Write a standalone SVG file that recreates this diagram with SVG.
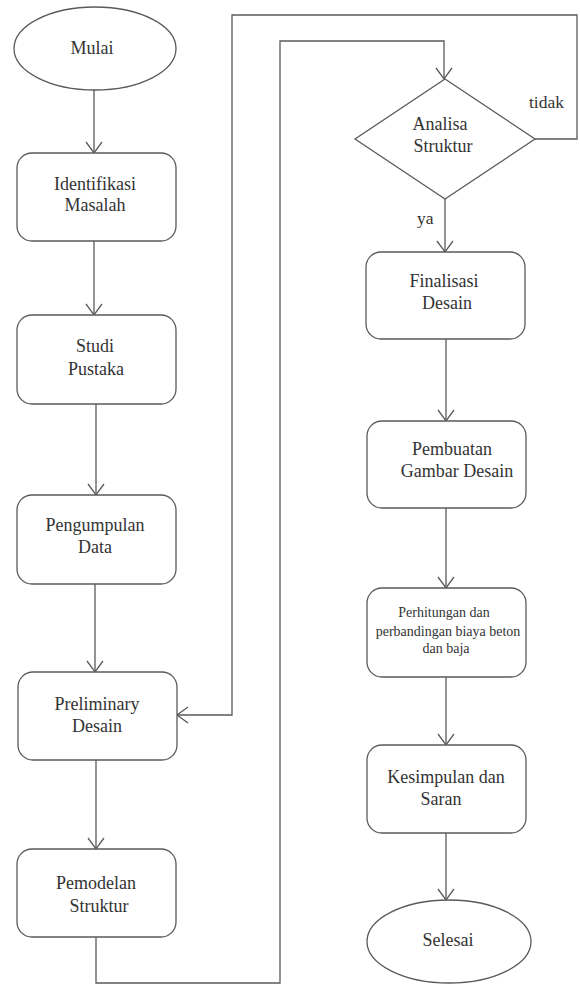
<svg xmlns="http://www.w3.org/2000/svg" width="580" height="984" viewBox="0 0 580 984">
<style>
.shape{fill:#ffffff;stroke:#5a5a5a;stroke-width:1.3}
text{font-family:'Liberation Serif','DejaVu Serif',serif;fill:#333333}
.t{font-size:18px;text-anchor:middle}
.s{font-size:14px;text-anchor:middle}
.lbl{font-size:17.5px}
.c{fill:none;stroke:#5a5a5a;stroke-width:1.3}
</style>
<defs>
<marker id="arr" markerUnits="userSpaceOnUse" markerWidth="14" markerHeight="20" viewBox="0 0 14 20" refX="12" refY="10" orient="auto">
<path d="M1,2 L12,10 L1,18" fill="none" stroke="#5a5a5a" stroke-width="1.3"/>
</marker>
</defs>
<rect width="580" height="984" fill="#ffffff"/>
<g id="connectors">
<line class="c" x1="94" y1="90" x2="94" y2="153" marker-end="url(#arr)"/>
<line class="c" x1="94" y1="241" x2="94" y2="315" marker-end="url(#arr)"/>
<line class="c" x1="96" y1="404" x2="96" y2="495" marker-end="url(#arr)"/>
<line class="c" x1="95" y1="584" x2="95" y2="672" marker-end="url(#arr)"/>
<line class="c" x1="96" y1="760" x2="96" y2="849" marker-end="url(#arr)"/>
<polyline class="c" points="96,937 96,983 280,983 280,41 444,41 444,79" marker-end="url(#arr)"/>
<polyline class="c" points="535,139 577,139 577,15 232,15 232,715 177,715" marker-end="url(#arr)"/>
<line class="c" x1="445" y1="199" x2="445" y2="252" marker-end="url(#arr)"/>
<line class="c" x1="446" y1="339" x2="446" y2="421" marker-end="url(#arr)"/>
<line class="c" x1="446" y1="508" x2="446" y2="588" marker-end="url(#arr)"/>
<line class="c" x1="446" y1="677" x2="446" y2="745" marker-end="url(#arr)"/>
<line class="c" x1="446" y1="833" x2="446" y2="900" marker-end="url(#arr)"/>
<text class="lbl" x="529" y="108">tidak</text>
<text class="lbl" x="417" y="224">ya</text>
</g>
<g id="mulai">
<ellipse class="shape" cx="95" cy="48.5" rx="81" ry="41.5"/>
<text class="t" x="92" y="54">Mulai</text>
</g>
<g id="identifikasi">
<rect class="shape" x="17" y="153" width="159" height="88" rx="15"/>
<text class="t" x="95" y="190">Identifikasi</text>
<text class="t" x="95" y="211">Masalah</text>
</g>
<g id="studi">
<rect class="shape" x="17" y="315" width="159" height="89" rx="15"/>
<text class="t" x="95" y="352">Studi</text>
<text class="t" x="96" y="375">Pustaka</text>
</g>
<g id="pengumpulan">
<rect class="shape" x="17" y="495" width="159" height="89" rx="15"/>
<text class="t" x="95" y="531">Pengumpulan</text>
<text class="t" x="95" y="553">Data</text>
</g>
<g id="preliminary">
<rect class="shape" x="18" y="672" width="159" height="88" rx="15"/>
<text class="t" x="97" y="710">Preliminary</text>
<text class="t" x="97" y="732">Desain</text>
</g>
<g id="pemodelan">
<rect class="shape" x="17" y="849" width="159" height="88" rx="15"/>
<text class="t" x="96" y="889">Pemodelan</text>
<text class="t" x="99" y="912">Struktur</text>
</g>
<g id="analisa">
<polygon class="shape" points="445,79 535,139 445,199 355,139"/>
<text class="t" x="440" y="130">Analisa</text>
<text class="t" x="443" y="152">Struktur</text>
</g>
<g id="finalisasi">
<rect class="shape" x="366" y="252" width="159" height="87" rx="15"/>
<text class="t" x="444" y="287">Finalisasi</text>
<text class="t" x="447" y="309">Desain</text>
</g>
<g id="pembuatan">
<rect class="shape" x="367" y="421" width="159" height="87" rx="15"/>
<text class="t" x="452" y="455">Pembuatan</text>
<text class="t" x="457" y="477">Gambar Desain</text>
</g>
<g id="perhitungan">
<rect class="shape" x="367" y="588" width="159" height="89" rx="15"/>
<text class="s" x="444" y="617">Perhitungan dan</text>
<text class="s" x="448" y="636">perbandingan biaya beton</text>
<text class="s" x="446" y="653">dan baja</text>
</g>
<g id="kesimpulan">
<rect class="shape" x="367" y="745" width="159" height="88" rx="15"/>
<text class="t" x="446" y="783">Kesimpulan dan</text>
<text class="t" x="441" y="805">Saran</text>
</g>
<g id="selesai">
<ellipse class="shape" cx="449" cy="941.5" rx="82" ry="41.5"/>
<text class="t" x="448" y="946">Selesai</text>
</g>
</svg>
